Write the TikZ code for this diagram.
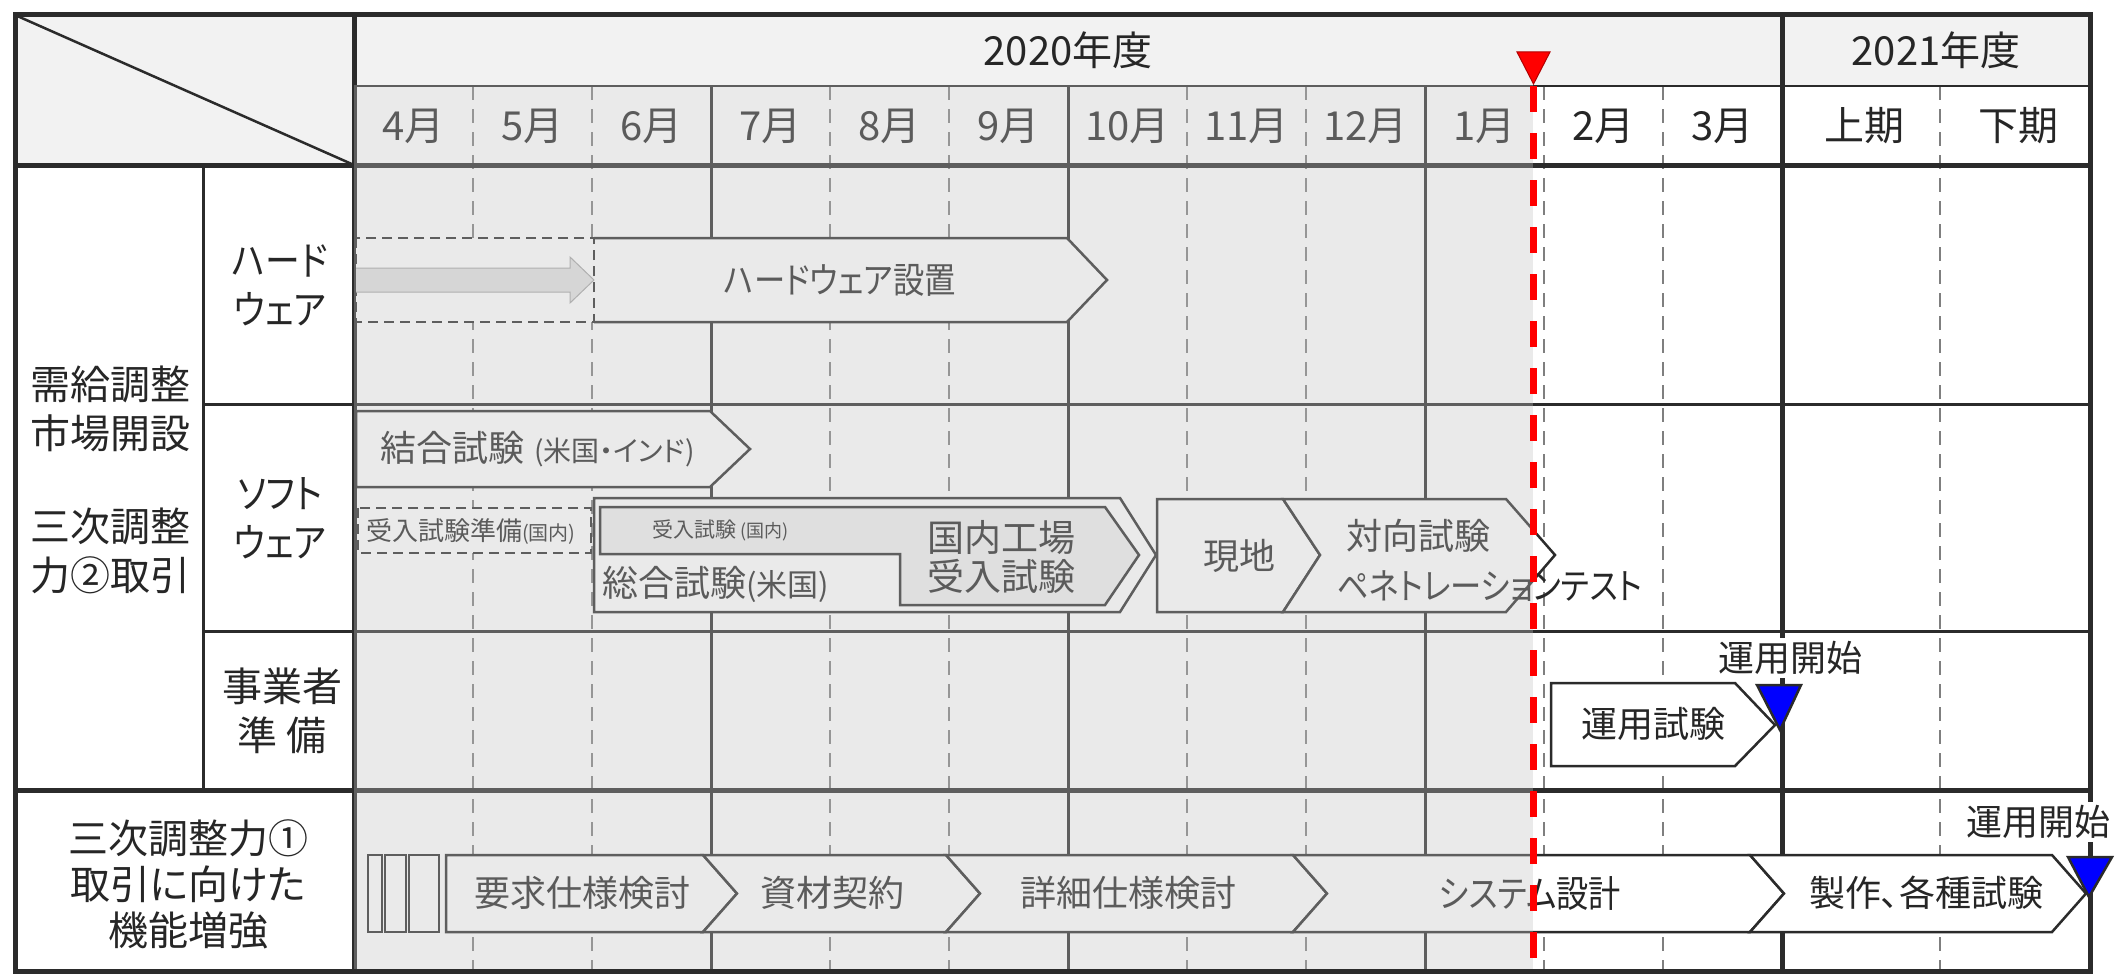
\documentclass[tikz,border=0pt]{standalone}
\usepackage{fontspec}
\setmainfont{Noto Sans CJK JP}[RawFeature=+palt]
\newfontfamily\kanafont{Noto Sans CJK JP}[RawFeature=+palt, FakeStretch=0.87]
\definecolor{linec}{HTML}{2B2B2B}
\definecolor{txtc}{HTML}{262626}
\definecolor{hdrbg}{HTML}{F2F2F2}
\definecolor{dashc}{HTML}{7F7F7F}
\definecolor{ovl}{RGB}{195,195,195}
\definecolor{innerbg}{HTML}{EEEEEE}
\definecolor{arrbg}{HTML}{E0E0E0}
\begin{document}
\begin{tikzpicture}[x=1pt,y=-1pt,
  txt/.style={text=txtc, inner sep=0pt, font=\fontsize{36}{44}\selectfont},
  mon/.style={text=txtc, inner sep=0pt, font=\fontsize{40}{44}\selectfont},
  lbl/.style={text=txtc, inner sep=0pt, align=center, font=\fontsize{40}{49}\selectfont},
  gridd/.style={dashc, line width=2pt, dash pattern=on 14pt off 9pt},
  grids/.style={linec, line width=3pt},
  thickline/.style={linec, line width=5pt},
  bar/.style={draw=linec, line width=2.5pt, fill=white, line join=miter},
  dbox/.style={draw=linec, line width=2pt, dash pattern=on 10pt off 6pt, fill=white},
  tinybox/.style={draw=linec, line width=2pt, fill=white},
  tri/.style={draw=linec, line width=2.5pt, fill=blue},
  startlbl/.style={txt, fill=white, inner sep=3pt}
]
\useasboundingbox (0,0) rectangle (2117,974);
\fill[white] (0,0) rectangle (2117,974);
% header backgrounds
\fill[hdrbg] (15,15) rectangle (354,165);
\fill[hdrbg] (354,15) rectangle (2090,86);
% grid
\foreach \x in {473,592,830,949,1187,1306,1544,1663,1940}
  \draw[gridd] (\x,86) -- (\x,971);
\foreach \x in {711,1068,1425}
  \draw[grids] (\x,86) -- (\x,971);
\draw[thickline] (1782,15) -- (1782,971);
\draw[thickline] (354,15) -- (354,971);
\draw[grids] (203,165) -- (203,790);
\draw[linec, line width=2.5pt] (354,86) -- (2090,86);
\draw[thickline] (15,165) -- (2090,165);
\draw[grids] (203,404) -- (2090,404);
\draw[grids] (203,631) -- (2090,631);
\draw[thickline] (15,790) -- (2090,790);
\draw[linec, line width=2.5pt] (15,15) -- (354,165);
% header texts
\node[mon] (y2020) at (1068,50) {2020年度};
\node[mon] (y2021) at (1936,50) {2021年度};
\foreach \m [count=\i from 0] in {4,5,6,7,8,9,10,11,12,1,2,3}
  \node[mon] (m\m) at ({413.5+119*\i},126) {\m{}月};
\node[mon] (kami) at (1864,126) {上期};
\node[mon] (shimo) at (2018,126) {下期};
% row labels
\node[lbl] (mkt) at (110,480) {需給調整\\市場開設\\[44pt]三次調整\\力②取引};
\node[lbl, font=\kanafont\fontsize{40}{49}\selectfont] (hw) at (280,285) {ハード\\ウェア};
\node[lbl, font=\kanafont\fontsize{40}{49}\selectfont] (sw) at (280,518) {ソフト\\ウェア};
\node[lbl] (biz) at (282,711) {事業者\\準 備};
\node[lbl, font=\fontsize{40}{46}\selectfont] (tert) at (188,884) {三次調整力①\\取引に向けた\\機能増強};
% hardware row
\fill[white] (594,238) -- (1067,238) -- (1107,280) -- (1067,322) -- (594,322) -- cycle;
\draw[linec, line width=2.5pt, line join=miter] (594,238) -- (1067,238) -- (1107,280) -- (1067,322) -- (594,322);
\draw[dbox] (356,238) rectangle (594,322);
\draw[draw=gray!70, fill=arrbg, line width=1pt] (356,268) -- (570,268) -- (570,257) -- (594,280) -- (570,303) -- (570,292) -- (356,292);
\node[txt, font=\kanafont\fontsize{36}{44}\selectfont] (hwset) at (840,280) {ハードウェア設置};
% software row
\draw[bar] (356,411) -- (710,411) -- (750,449) -- (710,487) -- (356,487) -- cycle;
\node[txt, anchor=west] (ketsugo) at (380,449) {結合試験\hspace{10pt}{\fontsize{28}{30}\selectfont (米国・インド)}};
\draw[dbox] (358,508) rectangle (591,553);
\node[txt, anchor=west, font=\fontsize{26}{30}\selectfont] (ukeprep) at (366,531) {受入試験準備{\fontsize{20}{24}\selectfont (国内)}};
\draw[bar] (594,498) -- (1120,498) -- (1156,555) -- (1120,612) -- (594,612) -- cycle;
\draw[draw=linec, line width=2.5pt, fill=innerbg, line join=miter] (600,507) -- (1105,507) -- (1139,555) -- (1105,605) -- (900,605) -- (900,554) -- (600,554) -- cycle;
\node[txt, anchor=west, font=\fontsize{21}{24}\selectfont] (ukejp) at (652,530) {受入試験 {\fontsize{18}{20}\selectfont (国内)}};
\node[txt, anchor=west] (sogo) at (602,584) {総合試験{\fontsize{31}{34}\selectfont (米国)}};
\node[txt, align=center, font=\fontsize{37}{39}\selectfont] (kojo) at (1001,557) {国内工場\\受入試験};
\draw[bar] (1157,499) -- (1283,499) -- (1320,555) -- (1283,612) -- (1157,612) -- cycle;
\draw[bar] (1283,499) -- (1506,499) -- (1555,555) -- (1506,612) -- (1283,612) -- (1320,555) -- cycle;
\node[txt] (genchi) at (1239,556) {現地};
\node[txt, anchor=west, align=left, font=\fontsize{36}{50}\selectfont] (taiko) at (1337,560) {\hspace{9pt}対向試験\\{\kanafont ペネトレーションテスト}};
% business row
\draw[bar] (1551,683) -- (1735,683) -- (1775,725) -- (1735,766) -- (1551,766) -- cycle;
\node[txt] (unyoshiken) at (1653,724) {運用試験};
% bottom row
\draw[tinybox] (368,855) rectangle (382,932);
\draw[tinybox] (385,855) rectangle (406,932);
\draw[tinybox] (409,855) rectangle (439,932);
\draw[bar] (446,855) -- (703,855) -- (737,893.5) -- (703,932) -- (446,932) -- cycle;
\draw[bar] (703,855) -- (946,855) -- (980,893.5) -- (946,932) -- (703,932) -- (737,893.5) -- cycle;
\draw[bar] (946,855) -- (1293,855) -- (1327,893.5) -- (1293,932) -- (946,932) -- (980,893.5) -- cycle;
\draw[bar] (1293,855) -- (1750,855) -- (1784,893.5) -- (1750,932) -- (1293,932) -- (1327,893.5) -- cycle;
\draw[bar] (1750,855) -- (2052,855) -- (2086,893.5) -- (2052,932) -- (1750,932) -- (1784,893.5) -- cycle;
\node[txt] (yokyu) at (582,893) {要求仕様検討};
\node[txt] (shizai) at (832,893) {資材契約};
\node[txt] (shosai) at (1128,893) {詳細仕様検討};
\node[txt, font=\kanafont\fontsize{37}{44}\selectfont] (sekkei) at (1530,893) {システム設計};
\node[txt] (seisaku) at (1926,893) {製作、各種試験};
% outer border
\draw[thickline] (15,15) rectangle (2090,971);
% past overlay
\fill[ovl, fill opacity=0.34] (354,85) rectangle (1533,969);
% milestones
\node[startlbl] (start1) at (1790,658) {運用開始};
\draw[tri] (1757,685) -- (1801,685) -- (1780,730) -- cycle;
\node[startlbl] (start2) at (2038,822) {運用開始};
\draw[tri] (2068,857) -- (2112,857) -- (2089,897) -- cycle;
% today line
\draw[red, line width=7pt, dash pattern=on 26pt off 21pt] (1533,86) -- (1533,971);
\draw[draw=red!70!black, line width=1pt, fill=red] (1517,52) -- (1550,52) -- (1533.5,84) -- cycle;
\end{tikzpicture}
\end{document}
